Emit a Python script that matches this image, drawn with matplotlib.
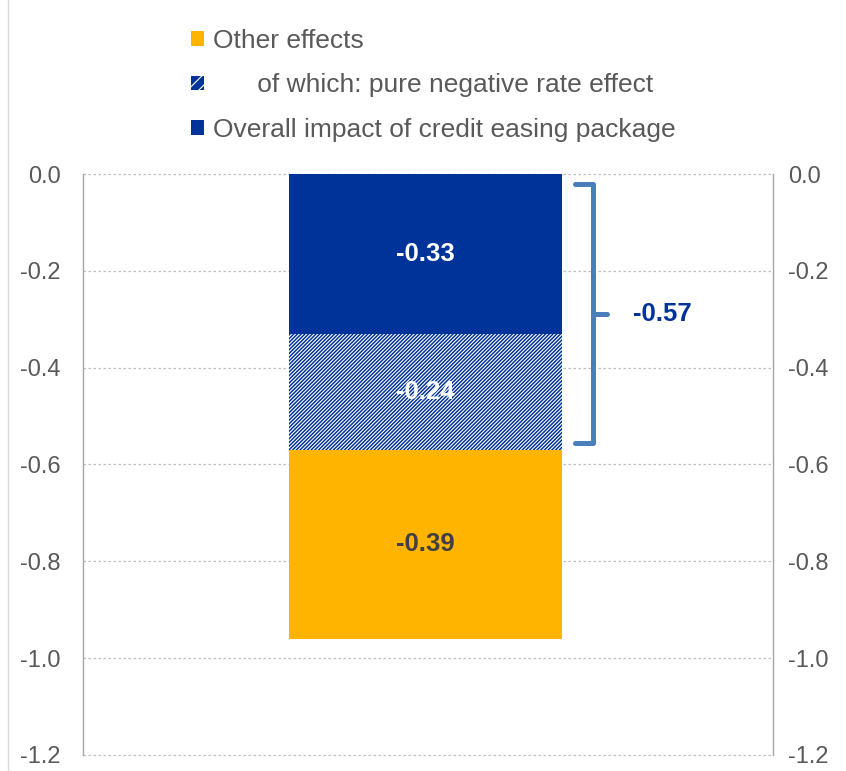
import matplotlib
matplotlib.use("Agg")
import matplotlib.pyplot as plt
from matplotlib.patches import Patch
from matplotlib.lines import Line2D

plt.rcParams['font.family'] = ['Liberation Sans', 'DejaVu Sans']
plt.rcParams['hatch.linewidth'] = 0.8

# Data
segments = ["Overall impact of credit easing package",
            "of which: pure negative rate effect",
            "Other effects"]
values = [-0.33, -0.24, -0.39]
total_label = -0.57
yticks = [0.0, -0.2, -0.4, -0.6, -0.8, -1.0, -1.2]

BLUE = "#003399"
YELLOW = "#FFB400"
GREY = "#595959"
BRACKET = "#4A7EBB"

fig = plt.figure(figsize=(8.46, 7.71), dpi=100)
ax = fig.add_axes([0.0981, 0.0208, 0.8156, 0.7535])

xc, w = 0.496, 0.396
bottoms = [0.0, values[0], values[0] + values[1]]
styles = [dict(color=BLUE, hatch=None, ec=BLUE),
          dict(color=BLUE, hatch='/////////', ec='white'),
          dict(color=YELLOW, hatch=None, ec=YELLOW)]
txtcol = ['white', 'white', '#404040']
for v, b, st, tc in zip(values, bottoms, styles, txtcol):
    ax.bar(xc, v, width=w, bottom=b, color=st['color'], hatch=st['hatch'],
           edgecolor=st['ec'], linewidth=0, zorder=3)
    ax.text(xc, b + v / 2, f"{v:.2f}", ha='center', va='center', color=tc,
            fontsize=18.5, fontweight='bold', zorder=4)

# bracket
yt, yb = -0.02, total_label + 0.015
ym = total_label / 2 - 0.005
xv, xa, xm = 0.739, 0.713, 0.760
ax.plot([xa, xv, xv, xa], [yt, yt, yb, yb], color=BRACKET, lw=3.6,
        solid_joinstyle='round', solid_capstyle='round', zorder=4)
ax.plot([xv, xm], [ym, ym], color=BRACKET, lw=3.6, solid_capstyle='round', zorder=4)
ax.text(0.839, ym, f"{total_label:.2f}", ha='center', va='center', color=BLUE,
        fontsize=18.5, fontweight='bold')

ax.set_xlim(0, 1)
ax.set_ylim(-1.2, 0.0)
ax.set_yticks(yticks)
ax.set_yticklabels([f"{t:.1f}" for t in yticks])
ax.set_xticks([])
ax.yaxis.grid(True, color='#BFBFBF', linestyle=(0, (2, 2)), linewidth=0.9, zorder=0)
for gl in ax.get_ygridlines():
    gl.set_clip_on(False)
for s in ['top', 'bottom']:
    ax.spines[s].set_visible(False)
for s in ['left', 'right']:
    ax.spines[s].set_color('#A6A6A6')
    ax.spines[s].set_linewidth(1.0)
ax.tick_params(axis='y', left=True, right=False, labelleft=True, labelright=False,
               length=0, labelsize=17, labelcolor=GREY, pad=16)

sec = ax.secondary_yaxis('right')
sec.set_yticks(yticks)
sec.set_yticklabels([f"{t:.1f}" for t in yticks])
sec.spines['right'].set_visible(False)
sec.tick_params(axis='y', length=0, labelsize=17, labelcolor=GREY, pad=11)

handles = [Patch(facecolor=YELLOW, edgecolor=YELLOW, linewidth=0),
           Patch(facecolor=BLUE, edgecolor='white', hatch='///', linewidth=0),
           Patch(facecolor=BLUE, edgecolor=BLUE, linewidth=0)]
labels = ["Other effects", "      " + segments[1], segments[0]]
leg = fig.legend(handles, labels, loc='upper left', bbox_to_anchor=(0.226, 0.9625),
                 frameon=False, fontsize=19, handlelength=0.48, handleheight=0.48,
                 handletextpad=0.33, labelspacing=0.78, borderaxespad=0,
                 borderpad=0)
for t in leg.get_texts():
    t.set_color(GREY)

fig.add_artist(Line2D([8 / 846, 8 / 846], [0, 1], color='#D9D9D9', lw=1))

fig.savefig("out.png", dpi=100)
